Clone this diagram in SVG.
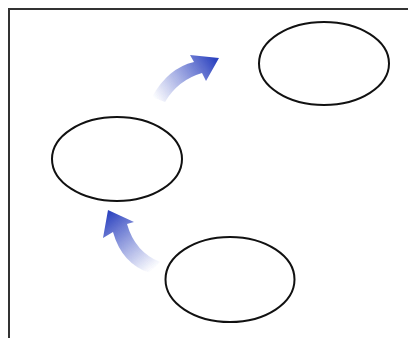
<svg xmlns="http://www.w3.org/2000/svg" width="408" height="338" viewBox="0 0 408 338">
<style>
.node ellipse{fill:#fff;stroke:#111;stroke-width:2}
.frame{fill:none;stroke:#333;stroke-width:2}
</style>
<defs>
<linearGradient id="g1" gradientUnits="userSpaceOnUse" x1="155" y1="100" x2="215" y2="60">
<stop offset="0" stop-color="#3b4fc4" stop-opacity="0"/>
<stop offset="0.45" stop-color="#3b4fc4" stop-opacity="0.45"/>
<stop offset="1" stop-color="#2f45c0" stop-opacity="1"/>
</linearGradient>
<linearGradient id="g2" gradientUnits="userSpaceOnUse" x1="155" y1="268" x2="110" y2="212">
<stop offset="0" stop-color="#3b4fc4" stop-opacity="0"/>
<stop offset="0.45" stop-color="#3b4fc4" stop-opacity="0.45"/>
<stop offset="1" stop-color="#2f45c0" stop-opacity="1"/>
</linearGradient>
<filter id="soft" x="-20%" y="-20%" width="140%" height="140%"><feGaussianBlur stdDeviation="0.7"/></filter>
</defs>
<rect width="408" height="338" fill="#fff"/>
<path class="frame" d="M9 338 V9 H408"/>
<g id="connectors" filter="url(#soft)">
<path id="arrow1" fill="url(#g1)" d="M152 97 Q168 68 194 62 L190 55 L219 58 L206 81 L202 73 Q178 80 165 102 Z"/>
<path id="arrow2" fill="url(#g2)" d="M160 262 Q135 252 127 224 L134 222 L108 210 L103 238 L113 232 Q122 264 150 273 Z"/>
</g>
<g id="n1" class="node"><ellipse cx="324" cy="63.5" rx="65" ry="41.5"/></g>
<g id="n2" class="node"><ellipse cx="117" cy="159" rx="65" ry="42"/></g>
<g id="n3" class="node"><ellipse cx="230" cy="279.5" rx="64.5" ry="42.5"/></g>
</svg>
